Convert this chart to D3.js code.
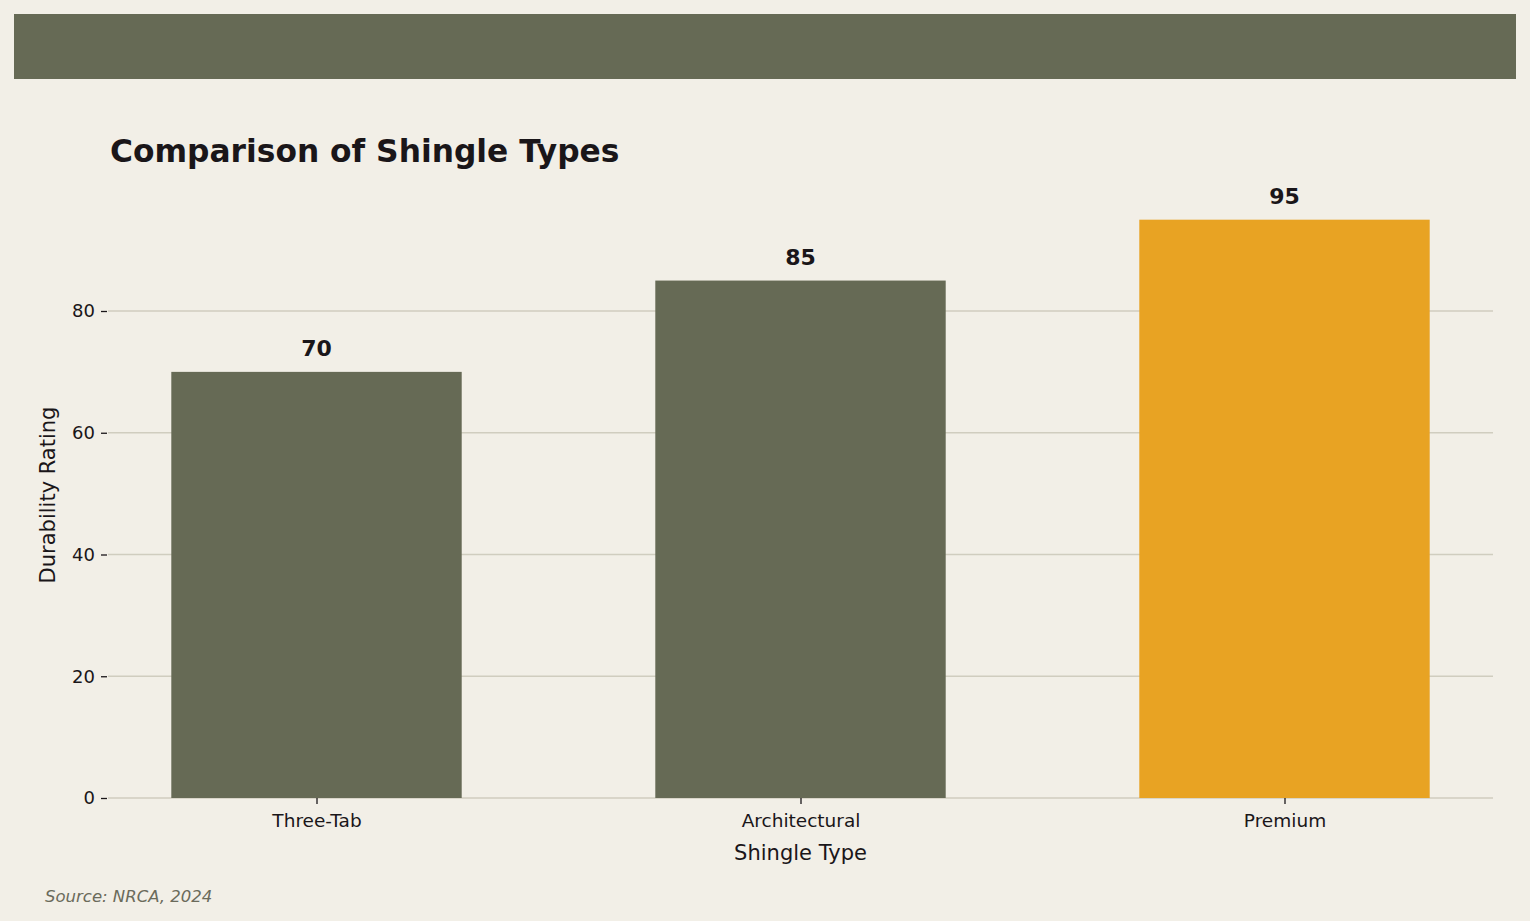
<!DOCTYPE html>
<html><head><meta charset="utf-8">
<script src="https://cdn.jsdelivr.net/npm/d3@7"></script>
<style>
html,body{margin:0;padding:0;background:#f2efe7;}
svg{display:block;font-family:"DejaVu Sans",sans-serif;}
</style></head>
<body>
<svg id="chart" width="1530" height="921"></svg>
<script>
const categories = ["Three-Tab", "Architectural", "Premium"];
const ratings = [70, 85, 95];
const barColors = ["#666a55", "#666a55", "#e8a323"];
const yTicks = [0, 20, 40, 60, 80];

const svg = d3.select("#chart");
const W = 1530, H = 921;
svg.append("rect").attr("width", W).attr("height", H).attr("fill", "#f2efe7");
svg.append("rect").attr("x", 14).attr("y", 14).attr("width", 1502).attr("height", 65).attr("fill", "#666a55");

svg.append("text").attr("x", 110).attr("y", 162)
  .attr("font-size", 31.3).attr("font-weight", "bold").attr("fill", "#1a1619")
  .text("Comparison of Shingle Types");

const left = 108, right = 1493, bottom = 798;
const y = d3.scaleLinear().domain([0, 80]).range([bottom, 311]);
const x = d3.scalePoint().domain(categories).range([left, right]).padding(0.4308);
const bw = x.step() * 0.6;

// gridlines
svg.append("g").selectAll("line").data(yTicks).join("line")
  .attr("x1", left).attr("x2", right)
  .attr("y1", d => y(d)).attr("y2", d => y(d))
  .attr("stroke", "#d0cdbf").attr("stroke-width", 1.6);

// bars
svg.append("g").selectAll("rect").data(ratings).join("rect")
  .attr("x", (d, i) => x(categories[i]) - bw / 2)
  .attr("width", bw)
  .attr("y", d => y(d))
  .attr("height", d => bottom - y(d))
  .attr("fill", (d, i) => barColors[i]);

// value labels
svg.append("g").selectAll("text").data(ratings).join("text")
  .attr("x", (d, i) => x(categories[i]))
  .attr("y", d => y(d) - 16)
  .attr("text-anchor", "middle")
  .attr("font-size", 22).attr("font-weight", "bold").attr("fill", "#1a1619")
  .text(d => d);

// y axis
const yAxis = d3.axisLeft(y).tickValues(yTicks).tickSize(6).tickPadding(6);
const gy = svg.append("g").attr("transform", `translate(${left - 1},0)`).call(yAxis);
gy.select(".domain").remove();
gy.selectAll(".tick line").attr("stroke", "#1a1619").attr("stroke-width", 1.3);
gy.selectAll(".tick text").attr("font-size", 18).attr("fill", "#1a1619").attr("font-family", "DejaVu Sans");

// x axis
const xAxis = d3.axisBottom(x).tickSize(6).tickPadding(10);
const gx = svg.append("g").attr("transform", `translate(0,${bottom})`).call(xAxis);
gx.select(".domain").remove();
gx.selectAll(".tick line").attr("stroke", "#1a1619").attr("stroke-width", 1.3);
gx.selectAll(".tick text").attr("font-size", 18.5).attr("fill", "#1a1619").attr("font-family", "DejaVu Sans");

// axis titles
svg.append("text").attr("x", (left + right) / 2).attr("y", 860)
  .attr("text-anchor", "middle").attr("font-size", 21).attr("fill", "#1a1619")
  .text("Shingle Type");
svg.append("text").attr("transform", `translate(55,495) rotate(-90)`)
  .attr("text-anchor", "middle").attr("font-size", 21).attr("fill", "#1a1619")
  .text("Durability Rating");

svg.append("text").attr("x", 45).attr("y", 902)
  .attr("font-size", 16.5).attr("font-style", "italic").attr("fill", "#6b6b5b")
  .text("Source: NRCA, 2024");
</script>
</body></html>
